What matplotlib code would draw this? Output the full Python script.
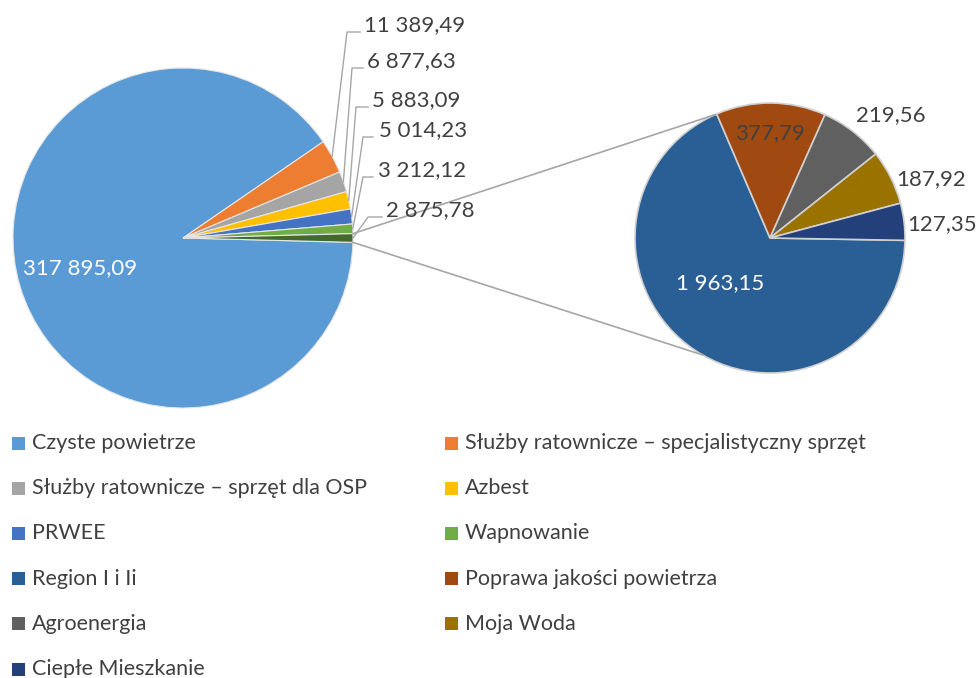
import matplotlib.pyplot as plt
import numpy as np
from matplotlib.patches import Rectangle

plt.rcParams["font.family"] = ["Lato", "DejaVu Sans"]

# main pie (clockwise from Czyste powietrze), last slice = remainder shown in the second pie
main_labels = [
    "Czyste powietrze",
    "Służby ratownicze – specjalistyczny sprzęt",
    "Służby ratownicze – sprzęt dla OSP",
    "Azbest",
    "PRWEE",
    "Wapnowanie",
]
main_values = [317895.09, 11389.49, 6877.63, 5883.09, 5014.23, 3212.12]
main_colors = ["#5b9bd5", "#ed7d31", "#a5a5a5", "#ffc000", "#4472c4", "#70ad47"]
other_color = "#44692d"

# second pie (breakdown of the remainder)
sub_labels = ["Region I i Ii", "Poprawa jakości powietrza", "Agroenergia", "Moja Woda", "Ciepłe Mieszkanie"]
sub_values = [1963.15, 377.79, 219.56, 187.92, 127.35]
sub_colors = ["#2a5f96", "#a04a12", "#606060", "#9a7200", "#24407a"]

W, H = 979, 678
TXT = "#404040"
LINE = "#a6a6a6"
NUM_FS = 16
LEG_FS = 15.5


def fmt(v):
    return f"{v:,.2f}".replace(",", " ").replace(".", ",")


def px(x, y):
    return x, H - y


fig = plt.figure(figsize=(W / 100, H / 100), dpi=100)
ax = fig.add_axes([0, 0, 1, 1])

values = main_values + [2875.78]
colors = main_colors + [other_color]
half = values[-1] / sum(values) * 360 / 2

main_c = px(183, 238)
main_r = 170
wedges, _ = ax.pie(values, colors=colors, center=main_c, radius=main_r,
                   startangle=-half, counterclock=False,
                   wedgeprops=dict(edgecolor="#e6e6e6", linewidth=0.8))

sub_c = px(770, 238)
sub_r = 135
sub_wedges, _ = ax.pie(sub_values, colors=sub_colors, center=sub_c, radius=sub_r,
                       startangle=-1, counterclock=False,
                       wedgeprops=dict(edgecolor="#d0d0d0", linewidth=1.2))

ax.set_xlim(0, W)
ax.set_ylim(0, H)
ax.axis("off")

# value label in the big slice
ax.text(*px(80, 268), fmt(main_values[0]), color="white", fontsize=NUM_FS,
        ha="center", va="center")

# leader lines for small slices: (elbow x, line y, line end x, text x)
leaders = [
    (347, 32, 360, 364),
    (352, 68, 363, 367),
    (356, 107, 368, 372),
    (363, 137, 373, 379),
    (363, 177, 373, 378),
    (368, 217, 382, 386),
]
for w, v, (ex, ly, lx, tx) in zip(wedges[1:], values[1:], leaders):
    mid = np.deg2rad((w.theta1 + w.theta2) / 2)
    sx = main_c[0] + main_r * np.cos(mid)
    sy = main_c[1] + main_r * np.sin(mid)
    ax.plot([sx, ex, lx], [sy, H - ly, H - ly], color=LINE, lw=1)
    ax.text(tx, H - ly + 7, fmt(v), color=TXT, fontsize=NUM_FS, ha="left", va="center")

# connector lines between the pies
w_other = wedges[-1]
for ang_main, ang_sub in [(w_other.theta2, 114), (w_other.theta1, 240)]:
    a1, a2 = np.deg2rad(ang_main), np.deg2rad(ang_sub)
    ax.plot([main_c[0] + main_r * np.cos(a1), sub_c[0] + sub_r * np.cos(a2)],
            [main_c[1] + main_r * np.sin(a1), sub_c[1] + sub_r * np.sin(a2)],
            color=LINE, lw=1.2)

# second pie labels
sub_pos = [(720, 283), (770, 133), (891, 115), (931, 179), (942, 224)]
sub_col = ["white", TXT, TXT, TXT, TXT]
for v, (x, y), c in zip(sub_values, sub_pos, sub_col):
    ax.text(*px(x, y), fmt(v), color=c, fontsize=NUM_FS, ha="center", va="center")

# legend (two columns, row-major)
leg_names = main_labels + sub_labels
leg_colors = main_colors + sub_colors
for i, (name, c) in enumerate(zip(leg_names, leg_colors)):
    row, col = divmod(i, 2)
    x0 = 12 if col == 0 else 445
    y0 = 443 + row * 45.2
    ax.add_patch(Rectangle((x0, H - y0 - 6.5), 13, 13, facecolor=c, edgecolor="none"))
    ax.text(x0 + 20, H - y0, name, color=TXT, fontsize=LEG_FS, ha="left", va="center")

fig.savefig("out.png", dpi=100)
